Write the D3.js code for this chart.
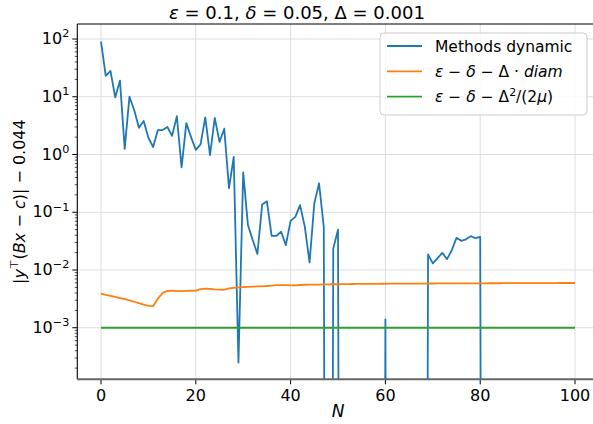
<!DOCTYPE html>
<html>
<head>
<meta charset="utf-8">
<script src="https://cdn.jsdelivr.net/npm/d3@7"></script>
<style>
  body { margin: 0; background: #fff; }
  svg { font-family: "DejaVu Sans", sans-serif; display: block; }
</style>
</head>
<body>
<svg id="chart" width="593" height="424"></svg>
<script>
// N runs 0..100; negative entries are below zero (matplotlib clips them on a log axis)
const NEG = -0.01;
const steps = d3.range(0, 101);

const methodsDynamic = [
  90, 23, 28, 9.8, 19, 1.25, 10, 5.9, 2.9, 3.8,
  1.95, 1.35, 2.65, 2.65, 3.0, 2.1, 4.6, 0.6, 3.5, 2.0,
  1.2, 1.5, 4.4, 0.98, 4.3, 1.65, 2.8, 0.26, 0.91, 0.00025,
  0.49, 0.06, 0.033, 0.019, 0.136, 0.155, 0.039, 0.039, 0.046, 0.027,
  0.071, 0.083, 0.133, 0.056, 0.0135, 0.142, 0.316, 0.056, NEG, 0.0236,
  0.05, NEG, NEG, NEG, NEG, NEG, NEG, NEG, NEG, NEG,
  0.0014, NEG, NEG, NEG, NEG, NEG, NEG, NEG, NEG, 0.0186,
  0.013, 0.016, 0.0198, 0.0154, 0.022, 0.036, 0.032, 0.034, 0.0386, 0.0355,
  0.0375, NEG, NEG, NEG, NEG, NEG, NEG, NEG, NEG, NEG,
  NEG, NEG, NEG, NEG, NEG, NEG, NEG, NEG, NEG, NEG,
  NEG
];

const boundDiam = [
  0.00388, 0.00372, 0.00357, 0.00342, 0.00327, 0.00312, 0.00297, 0.00282, 0.00267, 0.00252,
  0.00240, 0.00236, 0.00320, 0.00400, 0.00435, 0.00438, 0.00430, 0.00432, 0.00435, 0.00437,
  0.00440, 0.00468, 0.00475, 0.00470, 0.00462, 0.00458, 0.00455, 0.00480, 0.00490, 0.00500,
  0.00505, 0.00510, 0.00515, 0.00520, 0.00522, 0.00528, 0.00538, 0.00545, 0.00548, 0.00545,
  0.00540, 0.00542, 0.00550, 0.00555, 0.00558, 0.00560, 0.00560, 0.00562, 0.00565, 0.00566,
  0.00567, 0.00568, 0.00570, 0.00572, 0.00573, 0.00574, 0.00575, 0.00576, 0.00577, 0.00578,
  0.00578, 0.00579, 0.00580, 0.00580, 0.00581, 0.00582, 0.00582, 0.00583, 0.00583, 0.00584,
  0.00584, 0.00585, 0.00585, 0.00586, 0.00586, 0.00587, 0.00587, 0.00588, 0.00588, 0.00588,
  0.00589, 0.00589, 0.00590, 0.00590, 0.00590, 0.00591, 0.00591, 0.00591, 0.00592, 0.00592,
  0.00592, 0.00593, 0.00593, 0.00593, 0.00594, 0.00594, 0.00594, 0.00595, 0.00595, 0.00595,
  0.00596
];

const boundMu = steps.map(() => 0.001);

const xTicks = [0, 20, 40, 60, 80, 100];
const yExponents = [-3, -2, -1, 0, 1, 2];

function getConfig() {
  let width = 593, height = 424;
  let margin = { left: 77.3, top: 24, right: 598.7, bottom: 379.3 };
  let container = d3.select("#chart");
  return { width, height, margin, container };
}

function getScales(config) {
  let { margin } = config;
  let xScale = d3.scaleLinear().domain([-5, 105]).range([margin.left, margin.right]);
  let yScale = d3.scaleLog().domain([1.28e-4, 182]).range([margin.bottom, margin.top]);
  return { xScale, yScale };
}

// writes a piece of "math" text: segments are [string, kind] where kind is '', 'i' or 'sup'
function mathText(sel, segs, size) {
  let sup = false;
  segs.forEach(([t, kind]) => {
    let ts = sel.append("tspan").text(t);
    if (kind && kind.includes("i")) ts.attr("font-style", "italic");
    if (kind && kind.includes("sup")) {
      ts.attr("font-size", size * 0.7);
      if (!sup) ts.attr("dy", -size * 0.42);
      sup = true;
    } else if (sup) {
      ts.attr("dy", size * 0.42);
      sup = false;
    }
  });
}

function drawGridAndAxes(scales, config) {
  let { xScale, yScale } = scales;
  let { container, margin } = config;
  let grid = container.append("g");
  xTicks.forEach(t => {
    grid.append("line")
      .attr("x1", xScale(t)).attr("x2", xScale(t))
      .attr("y1", margin.top).attr("y2", margin.bottom)
      .attr("stroke", "#dedede").attr("stroke-width", 1);
  });
  yExponents.forEach(e => {
    grid.append("line")
      .attr("x1", margin.left).attr("x2", margin.right)
      .attr("y1", yScale(Math.pow(10, e))).attr("y2", yScale(Math.pow(10, e)))
      .attr("stroke", "#dedede").attr("stroke-width", 1);
  });

  // x ticks
  let ax = container.append("g");
  xTicks.forEach(t => {
    ax.append("line")
      .attr("x1", xScale(t)).attr("x2", xScale(t))
      .attr("y1", margin.bottom).attr("y2", margin.bottom + 5)
      .attr("stroke", "#000").attr("stroke-width", 1);
    ax.append("text")
      .attr("x", xScale(t)).attr("y", margin.bottom + 22)
      .attr("text-anchor", "middle").attr("font-size", 16)
      .text(t);
  });

  // y ticks (major + minor)
  let yt = container.append("g");
  for (let e = -4; e <= 2; e++) {
    for (let m = 1; m <= 9; m++) {
      let v = m * Math.pow(10, e);
      let [lo, hi] = yScale.domain();
      if (v < lo || v > hi) continue;
      let len = m === 1 ? 5 : 2.5;
      yt.append("line")
        .attr("x1", margin.left - len).attr("x2", margin.left)
        .attr("y1", yScale(v)).attr("y2", yScale(v))
        .attr("stroke", "#000").attr("stroke-width", m === 1 ? 1 : 0.7);
    }
  }
  yExponents.forEach(e => {
    let txt = yt.append("text")
      .attr("x", margin.left - 8).attr("y", yScale(Math.pow(10, e)) + 5)
      .attr("text-anchor", "end").attr("font-size", 16);
    mathText(txt, [["10", ""], [e < 0 ? "\u2212" + (-e) : String(e), "sup"]], 16);
  });
}

function drawLines(scales, config) {
  let { xScale, yScale } = scales;
  let { container, margin } = config;
  container.append("defs").append("clipPath").attr("id", "plotClip")
    .append("rect")
    .attr("x", margin.left).attr("y", margin.top)
    .attr("width", margin.right - margin.left)
    .attr("height", margin.bottom - margin.top);

  // non-positive values are sent far below the axis, as matplotlib does
  let line = d3.line()
    .x((d, i) => xScale(steps[i]))
    .y(d => yScale(d > 0 ? d : 1e-30));

  let body = container.append("g").attr("clip-path", "url(#plotClip)");
  [[methodsDynamic, "#1f77b4"], [boundDiam, "#ff7f0e"], [boundMu, "#2ca02c"]].forEach(([vals, c]) => {
    body.append("path")
      .datum(vals)
      .attr("d", line)
      .attr("fill", "none")
      .attr("stroke", c)
      .attr("stroke-width", 1.8)
      .attr("stroke-linejoin", "round");
  });
}

function drawFrame(config) {
  let { container, margin } = config;
  let f = container.append("g");
  f.append("line").attr("x1", margin.left).attr("x2", margin.left)
    .attr("y1", margin.top).attr("y2", margin.bottom)
    .attr("stroke", "#000").attr("stroke-width", 1.1);
  f.append("line").attr("x1", margin.left).attr("x2", margin.right)
    .attr("y1", margin.top).attr("y2", margin.top)
    .attr("stroke", "#000").attr("stroke-width", 1.1);
  f.append("line").attr("x1", margin.left).attr("x2", margin.right)
    .attr("y1", margin.bottom).attr("y2", margin.bottom)
    .attr("stroke", "#666").attr("stroke-width", 2);
}

function drawLabels(config) {
  let { container, margin } = config;
  let title = container.append("text")
    .attr("x", 297).attr("y", 19)
    .attr("text-anchor", "middle").attr("font-size", 18);
  mathText(title, [["\u03b5", "i"], [" = 0.1, ", ""], ["\u03b4", "i"], [" = 0.05, \u0394 = 0.001", ""]], 18);

  container.append("text")
    .attr("x", (margin.left + margin.right) / 2).attr("y", 417)
    .attr("text-anchor", "middle").attr("font-size", 17)
    .attr("font-style", "italic").text("N");

  let cy = (margin.top + margin.bottom) / 2;
  let yl = container.append("text")
    .attr("transform", `translate(25,${cy}) rotate(-90)`)
    .attr("text-anchor", "middle").attr("font-size", 16);
  mathText(yl, [["|", ""], ["y", "i"], ["\u22a4", "sup"], ["(", ""], ["Bx", "i"], [" \u2212 ", ""], ["c", "i"], [")| \u2212 0.044", ""]], 16);
}

function drawLegend(config) {
  let { container } = config;
  let g = container.append("g");
  g.append("rect")
    .attr("x", 380).attr("y", 33).attr("width", 207).attr("height", 82)
    .attr("rx", 4).attr("fill", "#fff").attr("fill-opacity", 0.8)
    .attr("stroke", "#cccccc").attr("stroke-width", 1);
  let entries = [
    ["#1f77b4", [["Methods dynamic", ""]]],
    ["#ff7f0e", [["\u03b5", "i"], [" \u2212 ", ""], ["\u03b4", "i"], [" \u2212 \u0394 \u00b7 ", ""], ["diam", "i"]]],
    ["#2ca02c", [["\u03b5", "i"], [" \u2212 ", ""], ["\u03b4", "i"], [" \u2212 \u0394", ""], ["2", "sup"], ["/(2", ""], ["\u03bc", "i"], [")", ""]]]
  ];
  entries.forEach(([c, segs], i) => {
    let y = 46 + i * 25.3;
    g.append("line").attr("x1", 387).attr("x2", 422).attr("y1", y).attr("y2", y)
      .attr("stroke", c).attr("stroke-width", 1.8);
    let t = g.append("text").attr("x", 435).attr("y", y + 5.5).attr("font-size", 15.5);
    mathText(t, segs, 15.5);
  });
}

function drawChart() {
  let config = getConfig();
  let scales = getScales(config);
  drawGridAndAxes(scales, config);
  drawLines(scales, config);
  drawFrame(config);
  drawLabels(config);
  drawLegend(config);
}

drawChart();
</script>
</body>
</html>
